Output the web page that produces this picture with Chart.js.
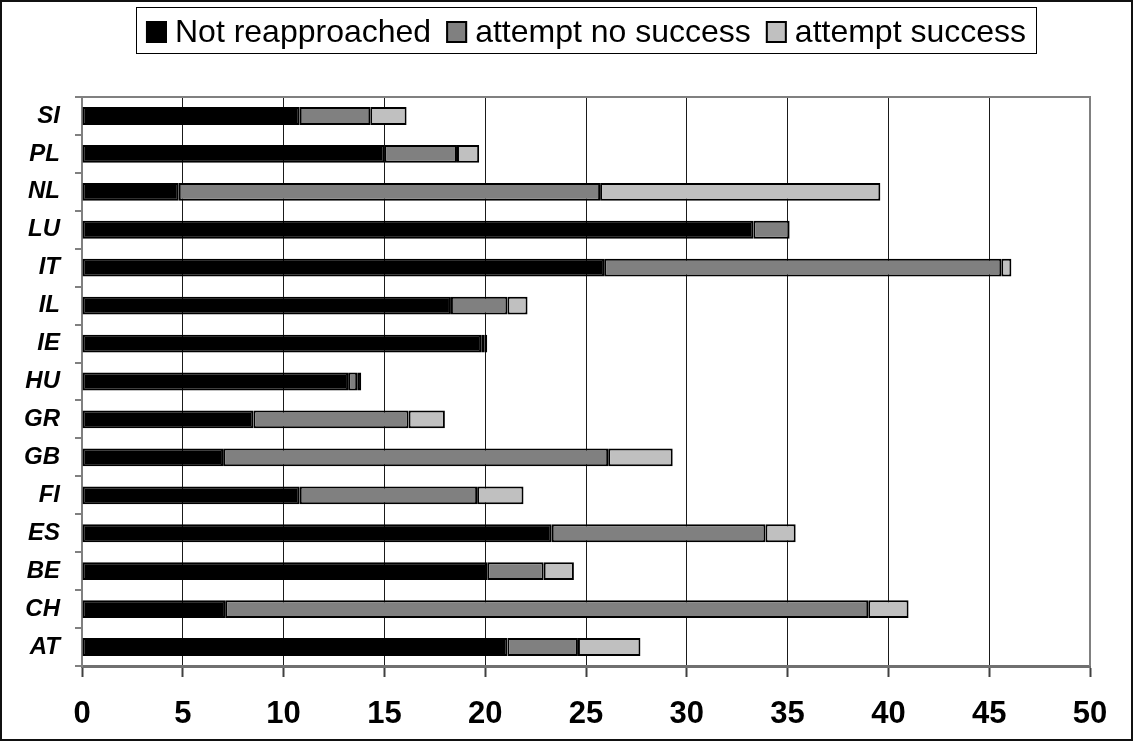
<!DOCTYPE html>
<html>
<head>
<meta charset="utf-8">
<script src="https://cdn.jsdelivr.net/npm/chart.js@4.4.1/dist/chart.umd.min.js"></script>
<style>
  html, body { margin: 0; padding: 0; background: #ffffff; }
  #wrap { width: 1135px; height: 742px; position: relative; }
</style>
</head>
<body>
<div id="wrap"><canvas id="chart" width="1135" height="742"></canvas></div>
<script>
// Countries, listed from the bottom bar to the top bar
const countries = ['AT', 'CH', 'BE', 'ES', 'FI', 'GB', 'GR', 'HU', 'IE', 'IL', 'IT', 'LU', 'NL', 'PL', 'SI'];

// Series values (same order as countries)
const notReapproached  = [21.1, 7.1, 20.1, 23.3, 10.8, 7.0, 8.5, 13.2, 19.8, 18.3, 25.9, 33.3, 4.8, 15.0, 10.8];
const attemptNoSuccess = [3.5, 31.9, 2.8, 10.6, 8.8, 19.1, 7.7, 0.45, 0.15, 2.8, 19.7, 1.8, 20.9, 3.6, 3.5];
const attemptSuccess   = [3.1, 2.0, 1.5, 1.5, 2.3, 3.2, 1.8, 0.2, 0.15, 1.0, 0.5, 0, 13.9, 1.1, 1.8];

const seriesNames = ['Not reapproached', 'attempt no success', 'attempt success'];
const seriesColors = ['#000000', '#808080', '#c0c0c0'];

const FONT = "'Liberation Sans', Arial, sans-serif";

// Outer frame, plot-area border and the boxed legend
const framePlugin = {
  id: 'frameAndLegend',
  beforeDatasetsDraw(chart) {
    const { ctx, chartArea: a } = chart;
    ctx.save();
    ctx.strokeStyle = '#808080';
    ctx.lineWidth = 2;
    ctx.beginPath();
    ctx.moveTo(a.left, a.top);
    ctx.lineTo(a.right, a.top);
    ctx.lineTo(a.right, a.bottom);
    ctx.stroke();
    ctx.restore();
  },
  afterDraw(chart) {
    const { ctx, chartArea: a } = chart;
    ctx.save();
    // outer frame
    ctx.strokeStyle = '#111111';
    ctx.lineWidth = 2;
    ctx.strokeRect(1, 1, chart.width - 4, chart.height - 3);

    // legend
    ctx.font = '32px ' + FONT;
    const marker = 21, gapText = 8, gapItem = 15;
    const widths = chart.data.datasets.map(d => ctx.measureText(d.label).width);
    let total = 0;
    widths.forEach((w, i) => { total += marker + gapText + w + (i < widths.length - 1 ? gapItem : 0); });
    const cx = (a.left + a.right) / 2;
    let x = cx - total / 2;
    const frameTop = 7, frameBottom = 53;
    ctx.fillStyle = '#ffffff';
    ctx.fillRect(x - 10, frameTop, total + 20, frameBottom - frameTop);
    ctx.strokeStyle = '#000000';
    ctx.lineWidth = 1;
    ctx.strokeRect(Math.round(x - 10) + 0.5, frameTop + 0.5, Math.round(total + 20), frameBottom - frameTop);

    ctx.textBaseline = 'alphabetic';
    ctx.textAlign = 'left';
    chart.data.datasets.forEach((d, i) => {
      ctx.fillStyle = d.backgroundColor;
      ctx.fillRect(x, 21, marker, 22);
      ctx.strokeStyle = '#000000';
      ctx.lineWidth = 2;
      ctx.strokeRect(x + 1, 22, marker - 2, 20);
      ctx.fillStyle = '#000000';
      ctx.fillText(d.label, x + marker + gapText, 42);
      x += marker + gapText + widths[i] + gapItem;
    });
    ctx.restore();
  }
};

const datasets = [notReapproached, attemptNoSuccess, attemptSuccess].map((values, i) => ({
  label: seriesNames[i],
  data: values,
  backgroundColor: seriesColors[i],
  borderColor: '#000000',
  borderWidth: 2,
  borderSkipped: false,
  barPercentage: 0.47,
  categoryPercentage: 1.0
}));

new Chart(document.getElementById('chart'), {
  type: 'bar',
  data: { labels: countries, datasets },
  options: {
    indexAxis: 'y',
    responsive: false,
    devicePixelRatio: 1,
    animation: false,
    layout: { padding: { top: 97, right: 45, bottom: 0, left: 0 } },
    plugins: {
      legend: { display: false },
      tooltip: { enabled: false },
      title: { display: false }
    },
    scales: {
      x: {
        type: 'linear',
        stacked: true,
        min: 0,
        max: 50,
        ticks: {
          stepSize: 5,
          color: '#000000',
          padding: 19,
          maxRotation: 0,
          font: { family: FONT, size: 31, weight: 'bold' }
        },
        grid: {
          color: '#1a1a1a',
          lineWidth: 1,
          tickLength: 11,
          tickColor: '#404040',
          tickWidth: 2
        },
        border: { color: '#707070', width: 3 },
        afterFit(scale) { scale.height = 76; }
      },
      y: {
        type: 'category',
        stacked: true,
        reverse: true,
        ticks: {
          color: '#000000',
          padding: 15,
          font: { family: FONT, size: 24, weight: 'bold', style: 'italic' }
        },
        grid: {
          drawOnChartArea: false,
          offset: true,
          tickLength: 7,
          color: '#808080',
          lineWidth: 2
        },
        border: { color: '#808080', width: 2 },
        afterFit(scale) { scale.width = 82; }
      }
    }
  },
  plugins: [framePlugin]
});
</script>
</body>
</html>
